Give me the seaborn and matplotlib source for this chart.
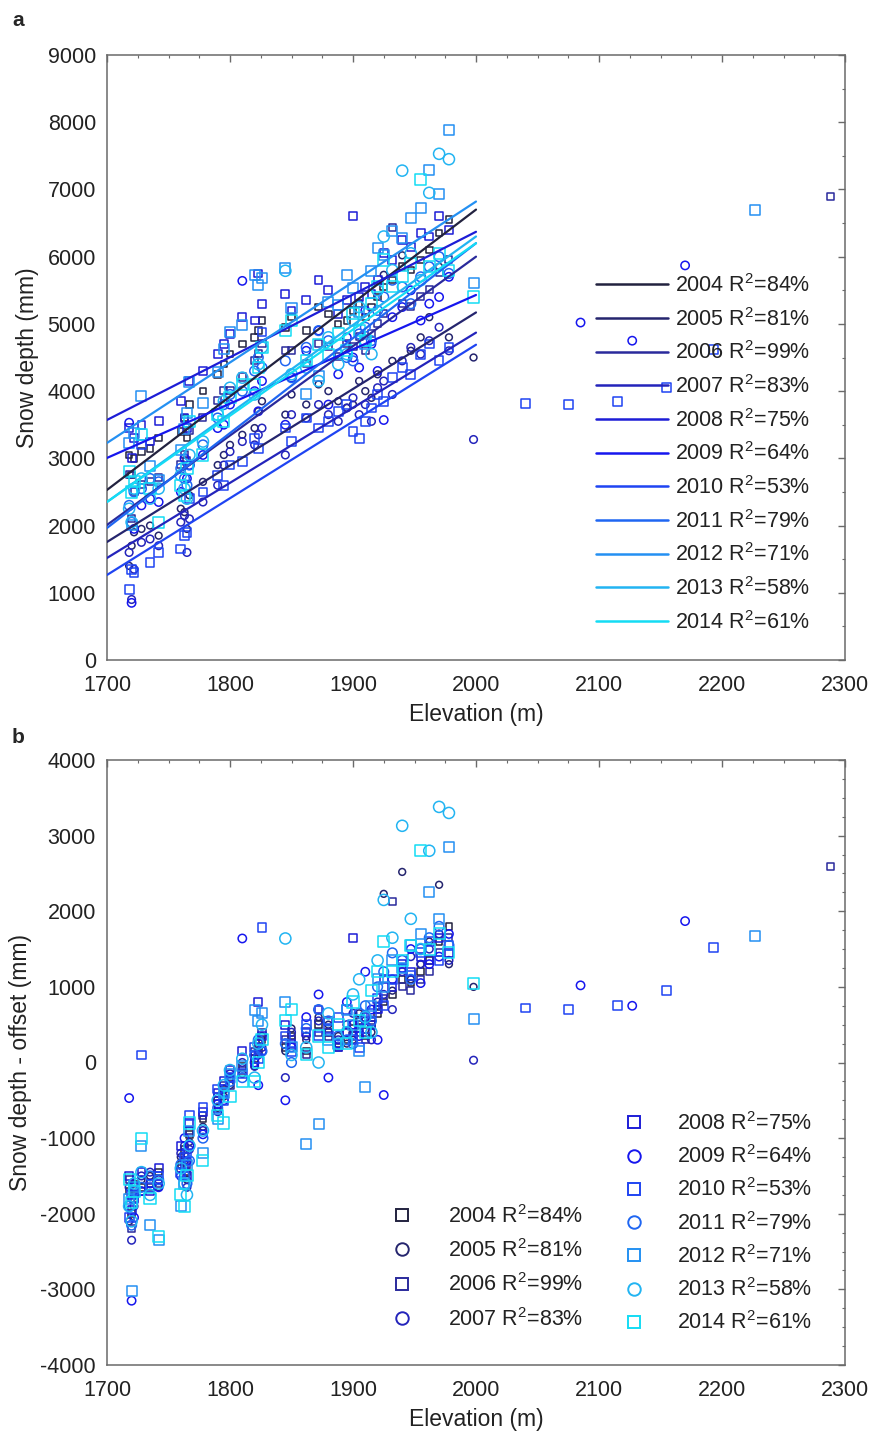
import numpy as np
import pandas as pd
import matplotlib
matplotlib.use("Agg")
import matplotlib.pyplot as plt
from matplotlib.lines import Line2D
from matplotlib.ticker import MultipleLocator
import seaborn as sns

sns.set_style("white")
plt.rcParams["font.family"] = ["Liberation Sans", "DejaVu Sans"]
plt.rcParams["mathtext.fontset"] = "custom"
plt.rcParams["mathtext.rm"] = "Liberation Sans"
plt.rcParams["axes.unicode_minus"] = False

# ---------------- data ----------------
YEARS = [2004, 2005, 2006, 2007, 2008, 2009, 2010, 2011, 2012, 2013, 2014]
R2 = [84, 81, 99, 83, 75, 64, 53, 79, 71, 58, 61]
COLORS = ["#22223f", "#25256e", "#2a2a9c", "#2424bb", "#1d1dd6", "#1616ee",
          "#1f44f2", "#1f66f2", "#2490f2", "#22b4f2", "#14dcf4"]
MARKERS = ["s", "o", "s", "o", "s", "o", "s", "o", "s", "o", "s"]
SIZES = [22, 24, 26, 30, 32, 36, 40, 48, 52, 64, 64]

# regression lines read at 1700 m and 2000 m
FIT_X = [1700, 2000]
FIT_1700 = [2530, 1756, 2009, 1518, 3571, 3006, 1265, 1964, 3229, 2351, 2351]
FIT_2000 = [6700, 5170, 6000, 4870, 6370, 5430, 4690, 6200, 6820, 6300, 6200]

# per-year offset subtracted in panel b
OFFSET = [4750, 3500, 4310, 3250, 4950, 4000, 3100, 4200, 5030, 4150, 4350]

STAKE_ELEV = [1718, 1720, 1722, 1728, 1735, 1742, 1760, 1763, 1765, 1767,
              1778, 1790, 1795, 1800, 1810, 1820, 1823, 1826, 1845, 1850,
              1862, 1872, 1880, 1888, 1895, 1900, 1905, 1910, 1915, 1920,
              1925, 1932, 1940, 1947, 1955, 1962, 1970, 1978, 1998]
nan = np.nan
# snow depth - offset (mm), per stake
RESID_2004 = [-1700, -2000, -1750, -1650, -1600, -1450, -1350, -1150, -1450, -950,
              -750, -500, -350, -200, -50, 50, 150, 300, 200, 350,
              150, 500, 400, 250, 300, 450, 550, 350, 500, 650,
              800, 900, 1100, 1050, 1200, 1350, 1600, 1800, nan]
RESID_2005 = [-2100, -1800, -1600, -1550, -1500, -1650, -1250, -1300, -1550, -1050,
              -850, -600, -450, -300, -150, -50, 200, 350, 150, 450,
              300, 600, 500, 350, 250, 300, 650, 500, 400, 750,
              2230, 950, 2520, 1100, 1300, 1600, 2350, 1300, 1000]
RESID_2006 = [-1550, -2200, -1800, -1700, -1650, -1600, -1400, -1250, -1350, -900,
              -700, -450, -300, -300, -100, 150, 250, 400, 300, 300,
              100, 400, 350, 200, 400, 350, 500, 300, 550, 700,
              850, 2130, 1000, 950, 1100, 1200, 1450, 1650, nan]
RESID_2007 = [-1650, -2350, -1900, -1500, -1450, -1550, -1200, -1100, -1650, -1150,
              -900, -650, -350, -150, 0, -50, 100, 200, -200, 400,
              350, 550, 400, 300, 500, 650, 400, 550, 300, 800,
              900, 700, 1200, 1400, 1300, 1500, 1700, 1350, 30]
RESID_2008 = [-1500, -1950, -1650, -1450, -1700, -1400, -1100, -1350, -1500, -800,
              -650, -400, -250, -100, 150, 100, 800, 350, 500, 250,
              400, 700, 550, 200, 400, 1650, 450, 600, 500, 700,
              1100, 1000, 1300, 1200, 1400, 1350, 1650, 1450, nan]
RESID_2009 = [-470, -3150, -2050, -1700, -1600, -1650, -1500, -1000, -1300, -1100,
              -950, -550, -500, -200, 1640, 0, -300, 150, -500, 200,
              600, 900, -200, 250, 800, 500, 350, 1200, 700, 300,
              -430, 1100, 1250, 1500, 1050, 1300, 1400, 1700, nan]
RESID_2010 = [-2050, -1750, -1800, 100, -1650, -1500, -1450, -1250, -1200, -700,
              -600, -350, -500, -200, -150, 200, 50, 1780, 350, 150,
              500, 350, 450, 600, 700, 300, 200, 450, 650, 850,
              750, 1100, 1250, 1150, 1450, 1600, 1350, 1550, nan]
RESID_2011 = [-1900, -2150, -1700, -1650, -1500, -1550, -1350, -1500, -1600, -1300,
              -1000, -600, -400, -250, -200, 100, 300, 150, 250, 0,
              450, 700, 550, 350, 300, 250, 650, 750, 550, 1000,
              1200, 1450, 1350, 1100, 1500, 1650, 1800, 1550, nan]
RESID_2012 = [-1800, -3020, -1650, -1100, -2150, -2350, -1900, -1600, -1350, -900,
              -1200, -750, -400, -150, -50, 700, 550, 650, 800, 200,
              -1080, -810, 300, 250, 700, 500, 150, -330, 750, 1100,
              1000, 1350, 1250, 1550, 1700, 2260, 1900, 2850, 580]
RESID_2013 = [-1900, -2100, -1600, -1450, -1750, -1600, -1400, -1600, -1750, -1100,
              -900, -500, -300, -100, 50, -200, 250, 500, 1640, 100,
              200, 0, 650, 250, 400, 900, 1100, 600, 400, 1350,
              2150, 1650, 3130, 1900, 1500, 2800, 3380, 3300, nan]
RESID_2014 = [-1550, -1850, -1700, -1000, -1800, -2300, -1750, -1900, -1500, -800,
              -1300, -700, -800, -450, -250, -250, 0, 300, 550, 700,
              100, 350, 200, 500, 250, 800, 550, 400, 950, 1200,
              1600, 1200, 1350, 1550, 2800, 1500, 1700, 1450, 1050]
RESIDS = [RESID_2004, RESID_2005, RESID_2006, RESID_2007, RESID_2008, RESID_2009,
          RESID_2010, RESID_2011, RESID_2012, RESID_2013, RESID_2014]

# isolated high-elevation points (snow depth in mm)
FAR_ELEV = [2040, 2075, 2085, 2115, 2127, 2155, 2170, 2193, 2227, 2288]
FAR_YEAR = [2010, 2010, 2009, 2010, 2009, 2010, 2009, 2010, 2012, 2006]
FAR_DEPTH = [3820, 3800, 5020, 3850, 4750, 4050, 5870, 4620, 6700, 6900]

# ---------------- build table ----------------
rows = []
for yr, res, off in zip(YEARS, RESIDS, OFFSET):
    for e, r in zip(STAKE_ELEV, res):
        if not np.isnan(r):
            rows.append((yr, e, r + off, r))
for e, yr, d in zip(FAR_ELEV, FAR_YEAR, FAR_DEPTH):
    off = OFFSET[YEARS.index(yr)]
    rows.append((yr, e, d, d - off))
df = pd.DataFrame(rows, columns=["year", "elev", "depth", "resid"])

# ---------------- figure ----------------
W, H = 870, 1434
fig = plt.figure(figsize=(W / 100, H / 100), dpi=100)

def ax_rect(l, r, t, b):
    return [l / W, 1 - b / H, (r - l) / W, (b - t) / H]

ax_a = fig.add_axes(ax_rect(107, 845, 55, 660))
ax_b = fig.add_axes(ax_rect(107, 845, 760, 1365))

for i, yr in enumerate(YEARS):
    sub = df[df["year"] == yr]
    for ax, col in ((ax_a, "depth"), (ax_b, "resid")):
        sns.scatterplot(data=sub, x="elev", y=col, ax=ax, marker=MARKERS[i],
                        s=SIZES[i], color=COLORS[i], facecolor="none",
                        edgecolor=COLORS[i], linewidth=1.1, zorder=2 + i * 0.01,
                        legend=False)

for i, yr in enumerate(YEARS):
    sns.lineplot(x=FIT_X, y=[FIT_1700[i], FIT_2000[i]], ax=ax_a, color=COLORS[i],
                 linewidth=1.6, zorder=4, legend=False)

grey = "#6a6a6a"
txt = "#222222"
for ax in (ax_a, ax_b):
    ax.set_xlim(1700, 2300)
    ax.xaxis.set_major_locator(MultipleLocator(100))
    ax.xaxis.set_minor_locator(MultipleLocator(25))
    ax.tick_params(which="both", direction="in", top=True, right=True,
                   color=grey, labelcolor=txt, labelsize=15.5)
    ax.tick_params(which="major", length=5, width=1)
    ax.tick_params(axis="y", which="major", pad=8)
    ax.tick_params(axis="x", which="major", pad=11)
    ax.tick_params(which="minor", length=2.5, width=0.8)
    for sp in ax.spines.values():
        sp.set_color(grey)
        sp.set_linewidth(1.1)
    ax.set_xlabel("Elevation (m)", fontsize=16.5, color=txt, labelpad=5)

ax_a.set_ylim(0, 9000)
ax_a.yaxis.set_major_locator(MultipleLocator(1000))
ax_a.yaxis.set_minor_locator(MultipleLocator(500))
ax_a.set_ylabel("Snow depth (mm)", fontsize=16.5, color=txt, labelpad=6)

ax_b.set_ylim(-4000, 4000)
ax_b.yaxis.set_major_locator(MultipleLocator(1000))
ax_b.yaxis.set_minor_locator(MultipleLocator(250))
ax_b.set_ylabel("Snow depth - offset (mm)", fontsize=16.5, color=txt, labelpad=6)

# legends
lbls = [f"{y} R$^2$=%d%%" % r for y, r in zip(YEARS, R2)]
line_h = [Line2D([], [], color=c, lw=1.8) for c in COLORS]
leg = ax_a.legend(line_h, lbls, loc="upper left", bbox_to_anchor=(0.662, 0.638),
                  frameon=False, fontsize=15.5, handlelength=3.35, handletextpad=0.33,
                  labelspacing=0.5, borderpad=0, borderaxespad=0)
for t in leg.get_texts():
    t.set_color(txt)

mk_h = [Line2D([], [], color=c, marker=m, linestyle="none", markerfacecolor="none",
               markeredgewidth=1.4, markersize=9) for c, m in zip(COLORS, MARKERS)]
leg1 = ax_b.legend(mk_h[:4], lbls[:4], loc="upper left", bbox_to_anchor=(0.385, 0.265),
                   frameon=False, fontsize=15.5, handlelength=1.0, handletextpad=1.65,
                   labelspacing=0.53, borderpad=0, borderaxespad=0)
for t in leg1.get_texts():
    t.set_color(txt)
ax_b.add_artist(leg1)
leg2 = ax_b.legend(mk_h[4:], lbls[4:], loc="upper left", bbox_to_anchor=(0.700, 0.418),
                   frameon=False, fontsize=15.5, handlelength=1.0, handletextpad=1.5,
                   labelspacing=0.48, borderpad=0, borderaxespad=0)
for t in leg2.get_texts():
    t.set_color(txt)

fig.text(12 / W, 1 - 20 / H, "a", fontsize=15, fontweight="bold", va="center", ha="left")
fig.text(12 / W, 1 - 738 / H, "b", fontsize=15, fontweight="bold", va="center", ha="left")

fig.savefig("out.png", dpi=100)
